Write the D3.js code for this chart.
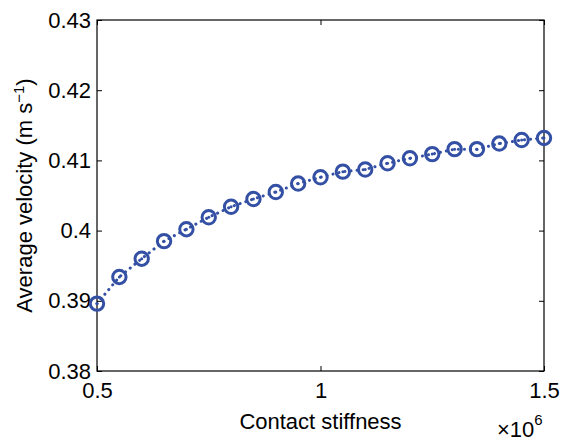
<!DOCTYPE html>
<html>
<head>
<meta charset="utf-8">
<script src="https://cdn.jsdelivr.net/npm/d3@7"></script>
<style>
  body { margin: 0; background: white; }
  text { font-family: "Liberation Sans", Arial, sans-serif; fill: black; }
</style>
</head>
<body>
<svg id="chart" width="561" height="441"></svg>
<script>
// contact stiffness (x 10^6) and average velocity (m/s)
var stiffness = [0.5, 0.55, 0.6, 0.65, 0.7, 0.75, 0.8, 0.85, 0.9, 0.95, 1.0,
                 1.05, 1.1, 1.15, 1.2, 1.25, 1.3, 1.35, 1.4, 1.45, 1.5];
var velocity = [0.3896, 0.3934, 0.3960, 0.3985, 0.4002, 0.4019, 0.4034, 0.4045,
                0.4055, 0.4067, 0.4076, 0.4084, 0.4087, 0.4096, 0.4103, 0.4109,
                0.4116, 0.4116, 0.4124, 0.4129, 0.4132];
var xTicks = [0.5, 1, 1.5];
var yTicks = [0.38, 0.39, 0.40, 0.41, 0.42, 0.43];
var yTickLabels = ['0.38', '0.39', '0.4', '0.41', '0.42', '0.43'];

var data = stiffness.map(function(d, i){ return {x: d, y: velocity[i]}; });

var margin = {left: 97, right: 17, top: 20, bottom: 70},
    width = 561 - margin.left - margin.right,
    height = 441 - margin.top - margin.bottom,
    blue = '#3450a4',
    fontSize = '22px',
    tickLen = 5;

var svg = d3.select('#chart');
var g = svg.append('g').attr('transform', 'translate(' + margin.left + ',' + margin.top + ')');

var x = d3.scaleLinear().domain([0.5, 1.5]).range([0, width]);
var y = d3.scaleLinear().domain([0.38, 0.43]).range([height, 0]);

// axes: ticks point inward, mirrored on top/right
function styleAxis(sel) {
    sel.select('.domain').remove();
    sel.selectAll('line').attr('stroke', 'black').attr('stroke-width', 1);
    sel.selectAll('text').style('font-size', fontSize)
        .style('font-family', '"Liberation Sans", Arial, sans-serif');
}

g.append('g')
    .attr('transform', 'translate(0,' + height + ')')
    .call(d3.axisBottom(x).tickValues(xTicks).tickSizeInner(-tickLen).tickPadding(11)
        .tickFormat(function(d){ return d3.format('~g')(d); }))
    .call(styleAxis);

g.append('g')
    .call(d3.axisTop(x).tickValues(xTicks).tickSizeInner(-tickLen).tickFormat(''))
    .call(styleAxis);

g.append('g')
    .call(d3.axisLeft(y).tickValues(yTicks).tickSizeInner(-tickLen).tickPadding(6)
        .tickFormat(function(d, i){ return yTickLabels[i]; }))
    .call(styleAxis);

g.append('g')
    .attr('transform', 'translate(' + width + ',0)')
    .call(d3.axisRight(y).tickValues(yTicks).tickSizeInner(-tickLen).tickFormat(''))
    .call(styleAxis);

// box
g.append('rect')
    .attr('width', width).attr('height', height)
    .attr('fill', 'none').attr('stroke', 'black').attr('stroke-width', 1.2);

// dotted line
var line = d3.line().x(function(d){ return x(d.x); }).y(function(d){ return y(d.y); });
g.append('path')
    .datum(data)
    .attr('d', line)
    .attr('fill', 'none')
    .attr('stroke', blue)
    .attr('stroke-width', 3)
    .attr('stroke-linecap', 'round')
    .attr('stroke-dasharray', '0.1,6');

// circle markers
g.selectAll('.pt')
    .data(data).enter()
    .append('circle').attr('class', 'pt')
    .attr('cx', function(d){ return x(d.x); })
    .attr('cy', function(d){ return y(d.y); })
    .attr('r', 6.7)
    .attr('fill', 'none')
    .attr('stroke', blue)
    .attr('stroke-width', 3);

g.selectAll('.ctr')
    .data(data).enter()
    .append('circle').attr('class', 'ctr')
    .attr('cx', function(d){ return x(d.x); })
    .attr('cy', function(d){ return y(d.y); })
    .attr('r', 1.5)
    .attr('fill', blue);

// labels
svg.append('text')
    .attr('x', margin.left + width / 2)
    .attr('y', 429)
    .attr('text-anchor', 'middle')
    .style('font-size', fontSize)
    .text('Contact stiffness');

var yl = svg.append('text')
    .attr('transform', 'translate(32,' + (margin.top + height / 2) + ') rotate(-90)')
    .attr('text-anchor', 'middle')
    .style('font-size', fontSize);
yl.append('tspan').text('Average velocity (m s');
yl.append('tspan').attr('dy', -8).style('font-size', '15px').text('\u22121');
yl.append('tspan').attr('dy', 8).text(')');

var ex = svg.append('text')
    .attr('x', 497)
    .attr('y', 437)
    .style('font-size', fontSize);
ex.append('tspan').text('\u00d710');
ex.append('tspan').attr('dy', -12).style('font-size', '15px').text('6');
</script>
</body>
</html>
